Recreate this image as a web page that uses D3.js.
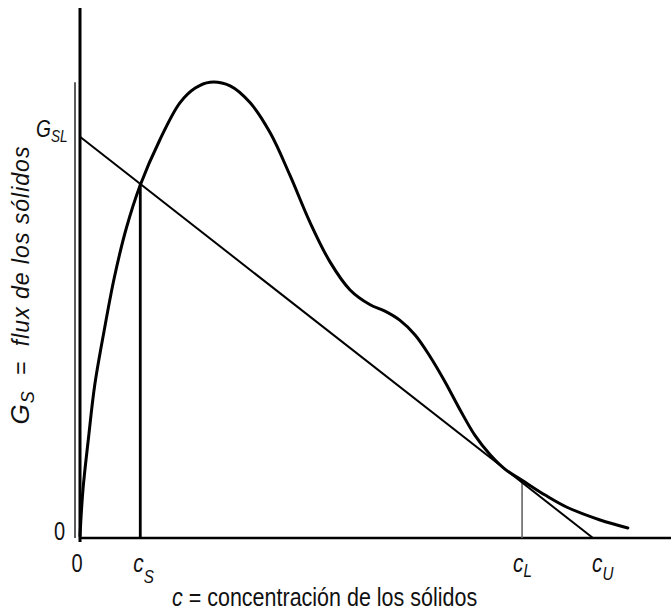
<!DOCTYPE html>
<html>
<head>
<meta charset="utf-8">
<script src="https://cdn.jsdelivr.net/npm/d3@7"></script>
<style>
  body { margin: 0; background: #fff; }
  svg { display: block; }
  text { font-family: "Liberation Sans", Arial, sans-serif; fill: #111; white-space: pre; }
  .hand { font-style: italic; }
</style>
</head>
<body>
<div id="chart"></div>
<script>
// flux curve, c vs G_S (arbitrary units)
const fluxC = [0, 0.05, 0.14, 0.25, 0.41, 0.58, 0.78, 1.02, 1.35, 1.69, 1.95, 2.20, 2.54, 2.88, 3.22, 3.55, 3.89, 4.23, 4.57, 4.91, 5.16, 5.41, 5.67, 5.92, 6.18, 6.43, 6.68, 6.94, 7.19, 7.48, 7.87, 8.24, 8.80, 9.27];
const fluxG = [0.04, 0.91, 1.85, 2.89, 3.92, 4.91, 5.83, 6.66, 7.51, 8.21, 8.49, 8.60, 8.53, 8.21, 7.64, 6.85, 5.96, 5.21, 4.68, 4.40, 4.28, 4.11, 3.83, 3.43, 2.94, 2.42, 1.94, 1.57, 1.30, 1.09, 0.81, 0.58, 0.34, 0.19];

// operating line and marked concentrations
const gSL = 7.57;
const cS = 1.02;
const cL = 7.48;
const cU = 8.68;

const width = 671, height = 612;
const margin = {top: 8, right: 0, bottom: 74, left: 80};

const x = d3.scaleLinear().domain([0, 10]).range([margin.left, width - margin.right]);
const y = d3.scaleLinear().domain([0, 10]).range([height - margin.bottom, margin.top]);

const svg = d3.select("#chart").append("svg")
  .attr("width", width)
  .attr("height", height);

// operating line value at c
const lineG = c => gSL * (1 - c / cU);

// second faint stroke next to the y axis (scan artefact)
svg.append("line")
  .attr("x1", x(0) - 5).attr("x2", x(0) - 5)
  .attr("y1", y(8.6)).attr("y2", y(0))
  .attr("stroke", "#333").attr("stroke-width", 1.6);

// axes
svg.append("line")
  .attr("x1", x(0)).attr("x2", x(0))
  .attr("y1", y(10)).attr("y2", y(0) + 4)
  .attr("stroke", "#000").attr("stroke-width", 3);
svg.append("line")
  .attr("x1", x(0)).attr("x2", x(10))
  .attr("y1", y(0)).attr("y2", y(0))
  .attr("stroke", "#000").attr("stroke-width", 2.5);

// vertical at c_S up to the intersection
svg.append("line")
  .attr("x1", x(cS)).attr("x2", x(cS))
  .attr("y1", y(0)).attr("y2", y(lineG(cS)))
  .attr("stroke", "#000").attr("stroke-width", 2.8);

// thin vertical at c_L
svg.append("line")
  .attr("x1", x(cL)).attr("x2", x(cL))
  .attr("y1", y(0)).attr("y2", y(lineG(cL)))
  .attr("stroke", "#666").attr("stroke-width", 1.6);

// operating line G_SL -> c_U
svg.append("line")
  .attr("x1", x(0)).attr("y1", y(gSL))
  .attr("x2", x(cU)).attr("y2", y(0))
  .attr("stroke", "#000").attr("stroke-width", 2);

// flux curve
const pts = fluxC.map((c, i) => [c, fluxG[i]]);
svg.append("path")
  .datum(pts)
  .attr("fill", "none")
  .attr("stroke", "#000")
  .attr("stroke-width", 3)
  .attr("stroke-linecap", "round")
  .attr("d", d3.line().x(d => x(d[0])).y(d => y(d[1])).curve(d3.curveCatmullRom.alpha(0.5)));

// zero labels (narrow digits)
svg.append("text").attr("transform", `translate(54, ${y(0) + 2}) scale(0.8,1)`)
  .attr("font-size", 25).text("0");
svg.append("text").attr("transform", `translate(${x(0) - 3}, 572) scale(0.8,1)`)
  .attr("text-anchor", "middle").attr("font-size", 25).text("0");

// subscripted hand labels, squeezed a little
function subLabel(px, py, main, sub, dy, mainSize, subSize) {
  const t = svg.append("text").attr("class", "hand")
    .attr("transform", `translate(${px}, ${py}) scale(0.8,1)`)
    .attr("font-size", mainSize || 26);
  t.append("tspan").text(main);
  t.append("tspan").attr("font-size", subSize || 19).attr("dy", dy).text(sub);
  return t;
}
subLabel(36, 137, "G", "SL", 5, 24, 17);
subLabel(x(cS) - 7, 572, "c", "S", 11);
subLabel(x(cL) - 9, 572, "c", "L", 5);
subLabel(x(cU) - 1, 572, "c", "U", 8);

// axis titles
const xt = svg.append("text")
  .attr("transform", "translate(172, 606) scale(0.86,1)")
  .attr("font-size", 25);
xt.append("tspan").attr("class", "hand").text("c");
xt.append("tspan").text(" = concentración de los sólidos");

const yt = svg.append("text")
  .attr("class", "hand")
  .attr("transform", `translate(29, 285) rotate(-90)`)
  .attr("text-anchor", "middle")
  .attr("letter-spacing", 1)
  .attr("font-size", 23);
yt.append("tspan").attr("font-size", 26).text("G");
yt.append("tspan").attr("font-size", 18).attr("dy", 5).text("S");
yt.append("tspan").attr("dy", -5).text("  =  flux de los sólidos");
</script>
</body>
</html>
